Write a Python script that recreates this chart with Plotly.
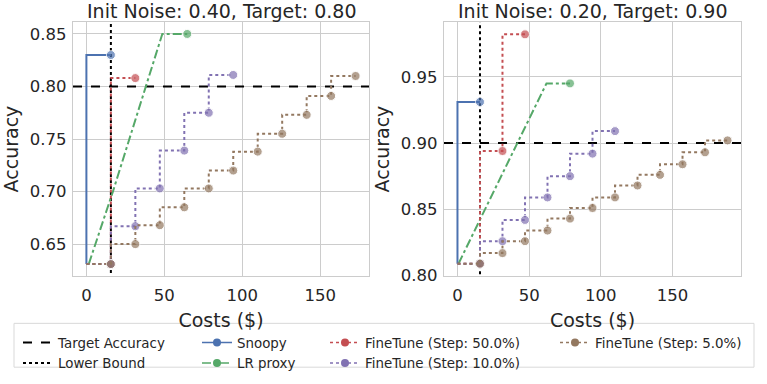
import plotly.graph_objects as go

# ---- data ----
# left panel: init noise 0.40, target 0.80
snoopy_l_x = [0, 15.7]
snoopy_l_y = [0.631, 0.830]
lr_l_x = [1.5, 17.0, 48.7, 64.7]
lr_l_y = [0.631, 0.700, 0.850, 0.850]
ft50_l_x = [0, 15.7, 31.4]
ft50_l_y = [0.631, 0.631, 0.808]
ft10_l_x = [0, 15.7, 31.4, 47.1, 62.8, 78.5, 94.2]
ft10_l_y = [0.631, 0.631, 0.667, 0.703, 0.739, 0.775, 0.811]
ft5_l_x = [0, 15.7, 31.4, 47.1, 62.8, 78.5, 94.2, 109.9, 125.6, 141.3, 157.0, 172.7]
ft5_l_y = [0.631, 0.631, 0.650, 0.668, 0.685, 0.703, 0.720, 0.738, 0.755, 0.773, 0.791, 0.810]
target_l = 0.80

# right panel: init noise 0.20, target 0.90
snoopy_r_x = [0, 15.7]
snoopy_r_y = [0.809, 0.931]
lr_r_x = [0.7, 62.1, 78.5]
lr_r_y = [0.809, 0.945, 0.945]
ft50_r_x = [0, 15.7, 31.4, 47.1]
ft50_r_y = [0.809, 0.809, 0.894, 0.982]
ft10_r_x = [0, 15.7, 31.4, 47.1, 62.8, 78.5, 94.2, 109.9]
ft10_r_y = [0.809, 0.809, 0.826, 0.842, 0.859, 0.875, 0.892, 0.909]
ft5_r_x = [0, 15.7, 31.4, 47.1, 62.8, 78.5, 94.2, 109.9, 125.6, 141.3, 157.0, 172.7, 188.4]
ft5_r_y = [0.809, 0.809, 0.817, 0.826, 0.834, 0.843, 0.851, 0.859, 0.868, 0.876, 0.884, 0.893, 0.902]
target_r = 0.90

lower_bound = 15.7
titles = ["Init Noise: 0.40, Target: 0.80", "Init Noise: 0.20, Target: 0.90"]
x_ticks = [0, 50, 100, 150]
y_ticks_l = [0.65, 0.70, 0.75, 0.80, 0.85]
y_ticks_r = [0.80, 0.85, 0.90, 0.95]

BLUE, GREEN, RED, PURPLE, BROWN = "#4C72B0", "#55A868", "#C44E52", "#8172B2", "#937860"
TXT = "#262626"
GRID = "#cccccc"
FONT = "DejaVu Sans"
MS = 9

fig = go.Figure()


def last_only(xs):
    # marker only on the final point
    return [0] * (len(xs) - 1) + [MS]


def skip_first(xs):
    return [0] + [MS] * (len(xs) - 1)


def add_panel(ax, snx, sny, lrx, lry, series, target, xr):
    xa = "x" if ax == 1 else "x2"
    ya = "y" if ax == 1 else "y2"
    common = dict(showlegend=False, xaxis=xa, yaxis=ya, hoverinfo="skip")
    fig.add_trace(go.Scatter(x=list(xr), y=[target, target], mode="lines",
                             line=dict(color="black", width=2, dash="dash"), **common))
    fig.add_trace(go.Scatter(x=[lower_bound, lower_bound], y=[0, 1], mode="lines",
                             line=dict(color="black", width=2, dash="dot"), **common))
    fig.add_trace(go.Scatter(x=snx, y=sny, mode="lines+markers", line_shape="vh",
                             line=dict(color=BLUE, width=2),
                             marker=dict(color=BLUE, size=last_only(snx)), **common))
    fig.add_trace(go.Scatter(x=lrx, y=lry, mode="lines+markers",
                             line=dict(color=GREEN, width=2, dash="dashdot"),
                             marker=dict(color=GREEN, size=last_only(lrx)), **common))
    for (sx, sy, col) in series:
        fig.add_trace(go.Scatter(x=sx, y=sy, mode="lines+markers", line_shape="vh",
                                 line=dict(color=col, width=2, dash="dot"),
                                 marker=dict(color=col, size=skip_first(sx)), **common))


xr_l = [-8.6, 181.3]
xr_r = [-9.4, 197.8]
yr_l = [0.620, 0.861]
yr_r = [0.800, 0.991]

add_panel(1, snoopy_l_x, snoopy_l_y, lr_l_x, lr_l_y,
          [(ft50_l_x, ft50_l_y, RED), (ft10_l_x, ft10_l_y, PURPLE), (ft5_l_x, ft5_l_y, BROWN)],
          target_l, xr_l)
add_panel(2, snoopy_r_x, snoopy_r_y, lr_r_x, lr_r_y,
          [(ft50_r_x, ft50_r_y, RED), (ft10_r_x, ft10_r_y, PURPLE), (ft5_r_x, ft5_r_y, BROWN)],
          target_r, xr_r)

# legend-only entries, laid out in four columns like the original
legend_items = [
    ("Target Accuracy", "black", "dash", False, "legend"),
    ("Lower Bound", "black", "dot", False, "legend"),
    ("Snoopy", BLUE, "solid", True, "legend2"),
    ("LR proxy", GREEN, "dashdot", True, "legend2"),
    ("FineTune (Step: 50.0%)", RED, "dot", True, "legend3"),
    ("FineTune (Step: 10.0%)", PURPLE, "dot", True, "legend3"),
    ("FineTune (Step: 5.0%)", BROWN, "dot", True, "legend4"),
]
for name, col, dash, mk, lg in legend_items:
    fig.add_trace(go.Scatter(x=[None], y=[None], name=name, legend=lg,
                             mode="lines+markers" if mk else "lines",
                             line=dict(color=col, width=1.5 if mk else 2, dash=dash),
                             marker=dict(color=col, size=8)))

W, H = 767, 384
axis_common = dict(showgrid=True, gridcolor=GRID, gridwidth=1, showline=True,
                   linecolor=GRID, linewidth=1.25, mirror=True, ticks="",
                   zeroline=False, tickfont=dict(size=16.5, color=TXT, family=FONT),
                   title_font=dict(size=19, color=TXT, family=FONT))

leg_common = dict(orientation="v", bgcolor="rgba(0,0,0,0)", borderwidth=0,
                  font=dict(size=13.4, color=TXT, family=FONT), itemwidth=30,
                  xanchor="left", yanchor="top", tracegroupgap=0)

LEG_Y = 1 - 336 / H

fig.update_layout(
    width=W, height=H, margin=dict(l=0, r=0, t=0, b=0),
    paper_bgcolor="white", plot_bgcolor="white",
    font=dict(family=FONT, color=TXT),
    xaxis=dict(domain=[73 / W, 369 / W], range=xr_l, tickvals=x_ticks,
               ticklabelstandoff=4,
               title=dict(text="Costs ($)", standoff=10), anchor="y", **axis_common),
    yaxis=dict(domain=[1 - 283 / H, 1 - 23 / H], range=yr_l, tickvals=y_ticks_l,
               tickformat=".2f", ticklabelstandoff=2,
               title=dict(text="Accuracy", standoff=6),
               anchor="x", **axis_common),
    xaxis2=dict(domain=[444 / W, 741 / W], range=xr_r, tickvals=x_ticks,
                ticklabelstandoff=4,
                title=dict(text="Costs ($)", standoff=10), anchor="y2", **axis_common),
    yaxis2=dict(domain=[1 - 283 / H, 1 - 23 / H], range=yr_r, tickvals=y_ticks_r,
                tickformat=".2f", ticklabelstandoff=2,
                title=dict(text="Accuracy", standoff=6),
                anchor="x2", **axis_common),
    legend=dict(x=18 / W, y=LEG_Y, **leg_common),
    legend2=dict(x=197 / W, y=LEG_Y, **leg_common),
    legend3=dict(x=325 / W, y=LEG_Y, **leg_common),
    legend4=dict(x=555 / W, y=LEG_Y, **leg_common),
    showlegend=True,
)

# legend frame
fig.add_shape(type="rect", xref="paper", yref="paper",
              x0=14 / W, x1=754 / W, y0=1 - 377 / H, y1=1 - 332 / H,
              line=dict(color="#d9d9d9", width=1), fillcolor="white", layer="below")

for cx, t in zip([(73 + 369) / 2 / W, (444 + 741) / 2 / W], titles):
    fig.add_annotation(x=cx, y=1 - 11 / H, xref="paper", yref="paper", text=t,
                       showarrow=False, font=dict(size=19, color=TXT, family=FONT),
                       xanchor="center", yanchor="middle")

fig.write_html("out.html", config={"displayModeBar": False},
               post_script="document.body.style.margin='0';")
